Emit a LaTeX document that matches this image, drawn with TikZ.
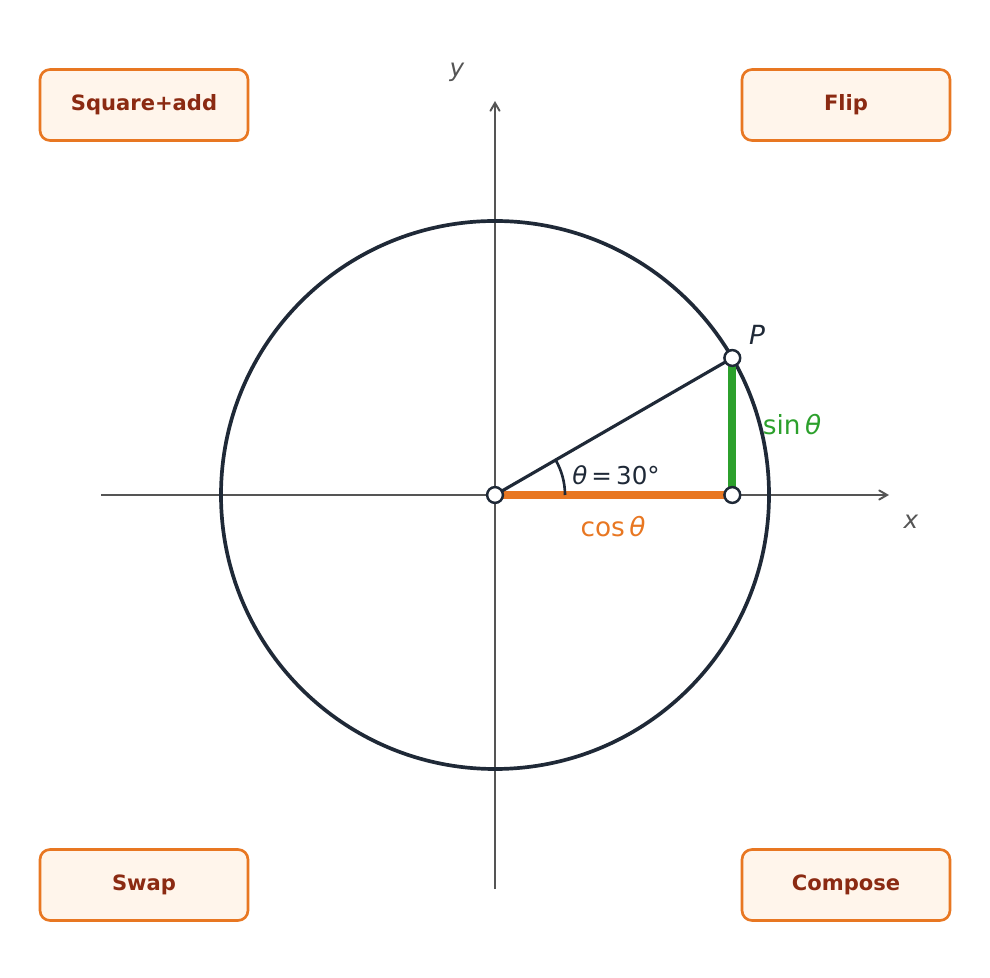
\documentclass[tikz,border=0pt]{standalone}
\usepackage{fontspec}
\setmainfont{DejaVu Sans}
\usepackage{tikz}
\usetikzlibrary{arrows,positioning}
\pgfdeclarelayer{edgelayer}
\pgfdeclarelayer{nodelayer}
\pgfsetlayers{edgelayer,nodelayer,main}
\definecolor{ink}{HTML}{1F2937}
\definecolor{axisgrey}{HTML}{555555}
\definecolor{cosorange}{HTML}{E87722}
\definecolor{singreen}{HTML}{2CA02C}
\definecolor{boxfill}{HTML}{FFF5EB}
\definecolor{boxtext}{HTML}{8B2A12}
\tikzstyle{pt}=[circle,fill=white,draw=ink,line width=1.4pt,inner sep=0pt,minimum size=9pt]
\tikzstyle{opbox}=[rectangle,rounded corners=0.2cm,draw=cosorange,fill=boxfill,line width=1.5pt,minimum width=4.16cm,minimum height=1.42cm,text=boxtext,font=\bfseries\fontsize{12}{14}\selectfont]
\tikzstyle{lbl}=[inner sep=1pt,font=\fontsize{15}{17}\selectfont]

\begin{document}
\begin{tikzpicture}[x=0.02cm,y=0.02cm]
\useasboundingbox (0,0) rectangle (990,977);
\node[pt] (O) at (495,482) {};
\node[pt] (P) at (732.3,619) {};
\node[pt] (Q) at (732.3,482) {};
\coordinate (xs) at (101,482);
\coordinate (xe) at (889,482);
\coordinate (ys) at (495,88);
\coordinate (ye) at (495,876);
\begin{pgfonlayer}{edgelayer}
\path[->,>=angle 60,axisgrey,line width=1.1pt]
(xs) edge (xe)
(ys) edge (ye);
\draw[ink,line width=2.1pt] (O.center) circle[radius=274];
\draw[cosorange,line width=4.5pt] (O.center) -- (Q.center);
\draw[singreen,line width=4.5pt] (Q.center) -- (P.center);
\draw[ink,line width=1.8pt] (O.center) -- (P.center);
\draw[ink,line width=1.5pt] (565,482) arc[start angle=0,end angle=30,radius=70];
\end{pgfonlayer}
\node[lbl,text=axisgrey,font=\itshape\fontsize{14}{16}\selectfont] (xl) at (911,455) {x};
\node[lbl,text=axisgrey,font=\itshape\fontsize{14}{16}\selectfont] (yl) at (457,905) {y};
\node[lbl,text=ink,font=\itshape\fontsize{15}{17}\selectfont] (Pl) at (757,642) {P};
\node[lbl,text=ink,font=\fontsize{14}{16}\selectfont] (angle) at (616,502) {\textit{θ}\,=\,30°};
\node[lbl,text=cosorange] (cos) at (613,450) {cos\,\textit{θ}};
\node[lbl,text=singreen] (sin) at (792,552) {sin\,\textit{θ}};
% operation boxes
\node[opbox] (sq) at (144,872) {Square+add};
\node[opbox] (flip) at (846,872) {Flip};
\node[opbox] (swap) at (144,92) {Swap};
\node[opbox] (comp) at (846,92) {Compose};
\end{tikzpicture}
\end{document}
